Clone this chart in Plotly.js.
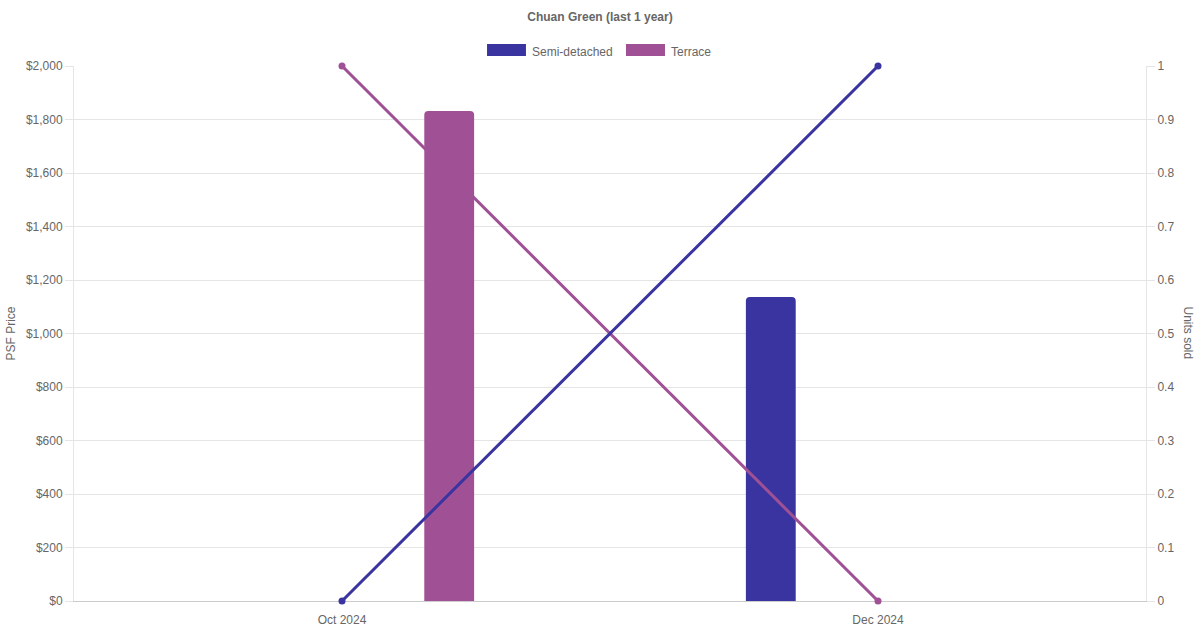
<!DOCTYPE html>
<html>
<head>
<meta charset="utf-8">
<script src="https://cdn.plot.ly/plotly-3.0.1.min.js"></script>
<style>html,body{margin:0;padding:0;background:#fff;}#chart{width:1200px;height:630px;}</style>
</head>
<body>
<div id="chart"></div>
<script>
// ---- data ----
const months = ["Oct 2024", "Dec 2024"];
const semiPsf = [null, 1136];
const terracePsf = [1832, null];
const semiUnits = [0, 1];
const terraceUnits = [1, 0];
const seriesNames = ["Semi-detached", "Terrace"];
const chartTitle = "Chuan Green (last 1 year)";

// ---- style ----
const semiColor = "#3934a0";
const terraceColor = "#a05195";
const font = "Liberation Sans, Arial, Helvetica, sans-serif";
const txt = "#666666";
const grid = "#e5e5e5";
const barW = 0.093;

const traces = [
  { type: "bar", name: seriesNames[0], x: months, y: semiPsf, xaxis: "x", yaxis: "y",
    width: barW, offset: -0.2 - barW / 2, marker: { color: semiColor, cornerradius: 4 },
    showlegend: false, hoverinfo: "skip" },
  { type: "scatter", mode: "lines+markers", name: seriesNames[1], x: months, y: terraceUnits,
    xaxis: "x", yaxis: "y2", line: { color: terraceColor, width: 3 },
    marker: { color: terraceColor, size: 7 }, showlegend: false, cliponaxis: false },
  { type: "bar", name: seriesNames[1], x: months, y: terracePsf, xaxis: "x", yaxis: "y3",
    width: barW, offset: 0.2 - barW / 2, marker: { color: terraceColor, cornerradius: 4 },
    showlegend: false, hoverinfo: "skip" },
  { type: "scatter", mode: "lines+markers", name: seriesNames[0], x: months, y: semiUnits,
    xaxis: "x", yaxis: "y4", line: { color: semiColor, width: 3 },
    marker: { color: semiColor, size: 7 }, showlegend: false, cliponaxis: false }
];

const legendY0 = 1.0187, legendY1 = 1.0411, legendYm = 1.0262;
const layout = {
  width: 1200, height: 630,
  margin: { l: 74, r: 54, t: 66, b: 29 },
  paper_bgcolor: "#fff", plot_bgcolor: "#fff",
  font: { family: font, size: 12, color: txt },
  title: { text: chartTitle, x: 0.5, xanchor: "center", y: 1 - 17 / 630, yanchor: "middle",
           font: { family: font, size: 12, color: txt, weight: 700 } },
  showlegend: false,
  xaxis: { type: "category", range: [-0.5, 1.5], showgrid: false, zeroline: false,
           showline: true, linecolor: "#cccccc", linewidth: 1, ticks: "",
           ticklabelstandoff: 8, layer: "below traces",
           tickfont: { size: 12, color: txt } },
  yaxis: { range: [0, 2000], dtick: 200, tickprefix: "$", tickformat: ",d",
           showgrid: true, gridcolor: grid, zeroline: false, showline: true,
           linecolor: grid, ticks: "outside", ticklen: 8, tickcolor: grid,
           layer: "below traces", tickfont: { size: 12, color: txt } },
  yaxis2: { range: [0, 1], dtick: 0.1, overlaying: "y", side: "right", showgrid: false,
            zeroline: false, showline: true, linecolor: grid, ticks: "outside",
            ticklen: 8, tickcolor: grid, layer: "below traces",
            tickfont: { size: 12, color: txt } },
  yaxis3: { range: [0, 2000], overlaying: "y", visible: false, showgrid: false, zeroline: false },
  yaxis4: { range: [0, 1], overlaying: "y", visible: false, showgrid: false, zeroline: false },
  shapes: [
    { type: "rect", xref: "paper", yref: "paper", x0: 0.3853, x1: 0.4216, y0: legendY0, y1: legendY1,
      fillcolor: semiColor, line: { width: 0 } },
    { type: "rect", xref: "paper", yref: "paper", x0: 0.5149, x1: 0.5513, y0: legendY0, y1: legendY1,
      fillcolor: terraceColor, line: { width: 0 } }
  ],
  annotations: [
    { text: seriesNames[0], xref: "paper", yref: "paper", x: 0.4254, y: legendYm,
      xanchor: "left", yanchor: "middle", showarrow: false, font: { size: 12, color: txt } },
    { text: seriesNames[1], xref: "paper", yref: "paper", x: 0.5550, y: legendYm,
      xanchor: "left", yanchor: "middle", showarrow: false, font: { size: 12, color: txt } },
    { text: "PSF Price", xref: "paper", yref: "paper", x: -0.0588, y: 0.5,
      xanchor: "center", yanchor: "middle", textangle: -90, showarrow: false,
      font: { size: 12, color: txt } },
    { text: "Units sold", xref: "paper", yref: "paper", x: 1.0401, y: 0.5,
      xanchor: "center", yanchor: "middle", textangle: 90, showarrow: false,
      font: { size: 12, color: txt } }
  ]
};

Plotly.newPlot("chart", traces, layout, { displayModeBar: false, staticPlot: true });
</script>
</body>
</html>
